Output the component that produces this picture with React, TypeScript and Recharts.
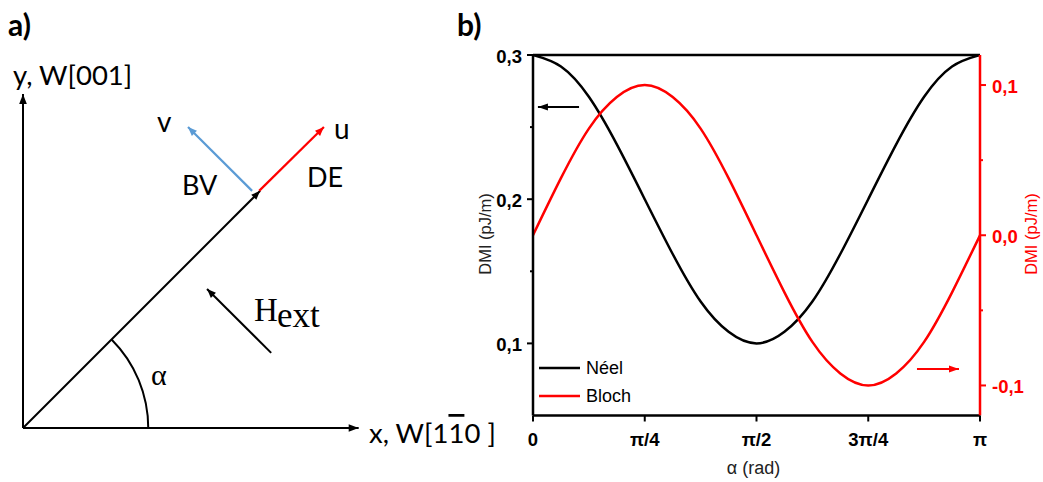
import {
  ComposedChart,
  Line,
  XAxis,
  YAxis,
  ReferenceLine,
  ReferenceDot,
  Legend,
  Label,
} from 'recharts'

// ---- panel b data (alpha in units of pi) ----
const alphaPi = [0, 0.0625, 0.125, 0.1875, 0.25, 0.3125, 0.375, 0.4375, 0.5, 0.5625, 0.625, 0.6875, 0.75, 0.8125, 0.875, 0.9375, 1]
const neelDmi = [0.3, 0.292, 0.271, 0.238, 0.2, 0.162, 0.129, 0.108, 0.1, 0.108, 0.129, 0.162, 0.2, 0.238, 0.271, 0.292, 0.3]
const blochDmi = [0, 0.038, 0.071, 0.092, 0.1, 0.092, 0.071, 0.038, 0, -0.038, -0.071, -0.092, -0.1, -0.092, -0.071, -0.038, 0]
const seriesNames = ['Néel', 'Bloch']

const xTicks = [0, 0.25, 0.5, 0.75, 1]
const xTickLabels = ['0', 'π/4', 'π/2', '3π/4', 'π']
const leftTicks = [0.1, 0.15, 0.2, 0.25, 0.3]
const rightTicks = [-0.1, -0.05, 0, 0.05, 0.1]

// axis pointer arrows inside plot b
const neelArrow = [{ a: 0.103, y: 0.264 }, { a: 0.011, y: 0.264 }]
const blochArrow = [{ a: 0.859, y: -0.089 }, { a: 0.953, y: -0.089 }]

// ---- panel a sketch (arbitrary units, same scale on both axes) ----
const yAxisVec = [{ x: 0, y: 0 }, { x: 0, y: 10 }]
const xAxisVec = [{ x: 0, y: 0 }, { x: 10.05, y: 0 }]
const alphaVec = [{ x: 0, y: 0 }, { x: 7.1, y: 7.1 }]
const uVec = [{ x: 7.07, y: 7.1 }, { x: 9.01, y: 9.01 }]
const vVec = [{ x: 6.86, y: 7.1 }, { x: 4.94, y: 9.01 }]
const hVec = [{ x: 7.43, y: 2.25 }, { x: 5.51, y: 4.16 }]
const alphaArcRadius = 3.75

const RED = '#FF0000'
const BLUE = '#5B9BD5'
const SANS = '"Liberation Sans", Arial, sans-serif'
const SKETCH = 'Lato, "Open Sans", sans-serif'
const SERIF = '"Liberation Serif", "DejaVu Serif", serif'

// panel a geometry
const A_PX = 33.4
const A_DOMAIN: [number, number] = [-0.6, 11.4]

// panel b geometry (chart coords)
const B_LEFT = 450
const PLOT_L = 83
const PLOT_R = 530
const PLOT_B = 415.5
const B_PX_X = PLOT_R - PLOT_L

const rows = alphaPi.map((a, i) => ({ a, neel: neelDmi[i], bloch: blochDmi[i] }))

const fmt = (v: number) => v.toFixed(1).replace('.', ',')
const isMajor = (v: number) => Math.abs(v * 10 - Math.round(v * 10)) < 1e-6

function arrowHead(cx: number, cy: number, dx: number, dy: number, color: string, len = 10, half = 3.8) {
  const n = Math.hypot(dx, dy) || 1
  const ux = dx / n
  const uy = dy / n
  const bx = cx - ux * len
  const by = cy - uy * len
  const pts = `${cx},${cy} ${bx - uy * half},${by + ux * half} ${bx + uy * half},${by - ux * half}`
  return <polygon points={pts} fill={color} />
}

// dot renderer that puts an arrow head on the last point of a 2-point series
const headDot =
  (pts: any[], xKey: string, sx: number, sy: number, color: string, len?: number, half?: number) =>
  (p: any) => {
    if (p.index !== pts.length - 1) return <g key={p.index} />
    const s = pts[pts.length - 2]
    const e = pts[pts.length - 1]
    return (
      <g key={p.index}>
        {arrowHead(p.cx, p.cy, (e[xKey] - s[xKey]) * sx, -(e.y - s.y) * sy, color, len, half)}
      </g>
    )
  }

const ArcShape = (p: any) => {
  const r = alphaArcRadius * A_PX
  const ang = Math.atan2(alphaVec[1].y, alphaVec[1].x)
  const x2 = p.cx + r * Math.cos(ang)
  const y2 = p.cy - r * Math.sin(ang)
  return <path d={`M${p.cx + r},${p.cy} A${r},${r} 0 0 0 ${x2},${y2}`} fill="none" stroke="#000" strokeWidth={2} />
}

function LeftTick(p: any) {
  const v = p.payload.value
  const major = isMajor(v)
  return (
    <g>
      <line x1={PLOT_L - (major ? 6 : 3)} x2={PLOT_L} y1={p.y} y2={p.y} stroke="#000" strokeWidth={2} />
      {major && (
        <text x={PLOT_L - 11} y={p.y + 1} textAnchor="end" dominantBaseline="central" fill="#000" fontWeight="bold" fontSize={18.5} fontFamily={SANS}>
          {fmt(v)}
        </text>
      )}
    </g>
  )
}

function RightTick(p: any) {
  const v = p.payload.value
  const major = isMajor(v)
  return (
    <g>
      <line x1={PLOT_R} x2={PLOT_R + (major ? 6 : 3)} y1={p.y} y2={p.y} stroke={RED} strokeWidth={2} />
      {major && (
        <text x={PLOT_R + 12} y={p.y + 1} textAnchor="start" dominantBaseline="central" fill={RED} fontWeight="bold" fontSize={18.5} fontFamily={SANS}>
          {fmt(v)}
        </text>
      )}
    </g>
  )
}

function BottomTick(p: any) {
  const i = xTicks.indexOf(p.payload.value)
  return (
    <g>
      <line x1={p.x} x2={p.x} y1={PLOT_B} y2={PLOT_B + 6} stroke="#000" strokeWidth={2} />
      <text x={p.x} y={PLOT_B + 24} textAnchor="middle" dominantBaseline="central" fill="#000" fontWeight="bold" fontSize={18.5} fontFamily={SANS}>
        {xTickLabels[i]}
      </text>
    </g>
  )
}

function LegendBox({ payload }: any) {
  const items = (payload || [])
    .filter((e: any) => seriesNames.includes(e.value))
    .sort((a: any, b: any) => seriesNames.indexOf(a.value) - seriesNames.indexOf(b.value))
  return (
    <div style={{ fontFamily: SANS, fontSize: 18, color: '#000' }}>
      {items.map((e: any) => (
        <div key={e.value} style={{ display: 'flex', alignItems: 'center', height: 28 }}>
          <svg width={41} height={4}>
            <line x1={0} x2={41} y1={2} y2={2} stroke={e.color} strokeWidth={2.5} />
          </svg>
          <span style={{ marginLeft: 6 }}>{e.value}</span>
        </div>
      ))}
    </div>
  )
}

function SketchPanel() {
  const vec = (data: any[], color: string, w = 2, len = 10, half = 3.8) => (
    <Line
      data={data}
      dataKey="y"
      type="linear"
      stroke={color}
      strokeWidth={w}
      dot={headDot(data, 'x', A_PX, A_PX, color, len, half)}
      activeDot={false}
      legendType="none"
      isAnimationActive={false}
    />
  )
  return (
    <ComposedChart width={440} height={482} margin={{ top: 47.24, right: 36.24, bottom: 33.96, left: 2.96 }}>
      <XAxis dataKey="x" type="number" domain={A_DOMAIN} allowDataOverflow hide />
      <YAxis type="number" domain={A_DOMAIN} allowDataOverflow hide />
      {vec(yAxisVec, '#000')}
      {vec(xAxisVec, '#000')}
      {vec(alphaVec, '#000', 2, 9, 3.6)}
      {vec(uVec, RED, 2.2, 9, 3.6)}
      {vec(vVec, BLUE, 2.2, 9, 3.6)}
      {vec(hVec, '#000', 2, 9, 3.6)}
      <ReferenceDot x={0} y={0} r={0} shape={ArcShape} />
    </ComposedChart>
  )
}

function DmiPanel() {
  return (
    <ComposedChart width={593} height={482} data={rows} margin={{ top: 55, right: 0, bottom: 26.5, left: 13 }}>
      <XAxis
        dataKey="a"
        type="number"
        domain={[0, 1]}
        ticks={xTicks}
        interval={0}
        allowDataOverflow
        height={40}
        tickLine={false}
        axisLine={{ stroke: '#000', strokeWidth: 2.5 }}
        tick={(p: any) => <BottomTick {...p} />}
      >
        <Label
          content={() => (
            <text x={(PLOT_L + PLOT_R) / 2 - 3} y={468} textAnchor="middle" dominantBaseline="central" fill="#222" fontSize={18} fontFamily={SANS}>
              α (rad)
            </text>
          )}
        />
      </XAxis>
      <YAxis
        yAxisId="left"
        type="number"
        domain={[0.05, 0.3]}
        ticks={leftTicks}
        interval={0}
        allowDataOverflow
        width={70}
        tickLine={false}
        axisLine={{ stroke: '#000', strokeWidth: 2.5 }}
        tick={(p: any) => <LeftTick {...p} />}
      >
        <Label
          content={() => (
            <text x={35} y={234} transform="rotate(-90 35 234)" textAnchor="middle" dominantBaseline="central" fill="#222" fontSize={16.5} fontFamily={SANS}>
              DMI (pJ/m)
            </text>
          )}
        />
      </YAxis>
      <YAxis
        yAxisId="right"
        orientation="right"
        type="number"
        domain={[-0.12, 0.12]}
        ticks={rightTicks}
        interval={0}
        allowDataOverflow
        width={63}
        tickLine={false}
        axisLine={{ stroke: RED, strokeWidth: 2.5 }}
        tick={(p: any) => <RightTick {...p} />}
      >
        <Label
          content={() => (
            <text x={581} y={234} transform="rotate(-90 581 234)" textAnchor="middle" dominantBaseline="central" fill={RED} fontSize={16.5} fontFamily={SANS}>
              DMI (pJ/m)
            </text>
          )}
        />
      </YAxis>
      <ReferenceLine yAxisId="left" y={0.3} stroke="#000" strokeWidth={2.5} />
      <Line yAxisId="left" dataKey="neel" name={seriesNames[0]} type="natural" stroke="#000" strokeWidth={2.5} dot={false} activeDot={false} isAnimationActive={false} />
      <Line yAxisId="right" dataKey="bloch" name={seriesNames[1]} type="natural" stroke={RED} strokeWidth={2.5} dot={false} activeDot={false} isAnimationActive={false} />
      <Line
        yAxisId="left"
        data={neelArrow}
        dataKey="y"
        type="linear"
        stroke="#000"
        strokeWidth={2}
        dot={headDot(neelArrow, 'a', B_PX_X, 1, '#000', 10, 3.5)}
        activeDot={false}
        legendType="none"
        isAnimationActive={false}
      />
      <Line
        yAxisId="right"
        data={blochArrow}
        dataKey="y"
        type="linear"
        stroke={RED}
        strokeWidth={2}
        dot={headDot(blochArrow, 'a', B_PX_X, 1, RED, 10, 3.5)}
        activeDot={false}
        legendType="none"
        isAnimationActive={false}
      />
      <Legend
        layout="vertical"
        align="center"
        verticalAlign="middle"
        wrapperStyle={{ left: 89, top: 354, width: 120 }}
        content={(p: any) => <LegendBox {...p} />}
      />
    </ComposedChart>
  )
}

export default function App() {
  return (
    <div style={{ position: 'absolute', left: 0, top: 0, width: 1043, height: 482, background: '#fff', fontFamily: SANS }}>
      <div style={{ position: 'absolute', left: 0, top: 0 }}>
        <SketchPanel />
      </div>
      <div style={{ position: 'absolute', left: B_LEFT, top: 0 }}>
        <DmiPanel />
      </div>
      <svg width={1043} height={482} style={{ position: 'absolute', left: 0, top: 0, pointerEvents: 'none' }}>
        <text x={8} y={36} fontFamily={SKETCH} fontWeight={700} fontSize={30} fill="#000">a)</text>
        <text x={457} y={36} fontFamily={SKETCH} fontWeight={700} fontSize={30} fill="#000">b)</text>
        <text x={13} y={85} fontFamily={SKETCH} fontSize={27.5} fill="#000">y, W[001]</text>
        <text x={369} y={443} fontFamily={SKETCH} fontSize={27.5} fill="#000">
          x, W[1<tspan textDecoration="overline">1</tspan>0 ]
        </text>
        <text x={157} y={132} fontFamily={SKETCH} fontSize={28} fill="#000">v</text>
        <text x={334} y={139} fontFamily={SKETCH} fontSize={28} fill="#000">u</text>
        <text x={182} y={195} fontFamily={SKETCH} fontSize={27} fill="#000">BV</text>
        <text x={307} y={187} fontFamily={SKETCH} fontSize={27} fill="#000">DE</text>
        <text x={254} y={321} fontFamily={SERIF} fontSize={33} fill="#000">H</text>
        <text x={277} y={327} fontFamily={SERIF} fontSize={35} fill="#000">ext</text>
        <text x={151} y={385} fontFamily={SERIF} fontSize={30} fill="#000">α</text>
      </svg>
    </div>
  )
}
